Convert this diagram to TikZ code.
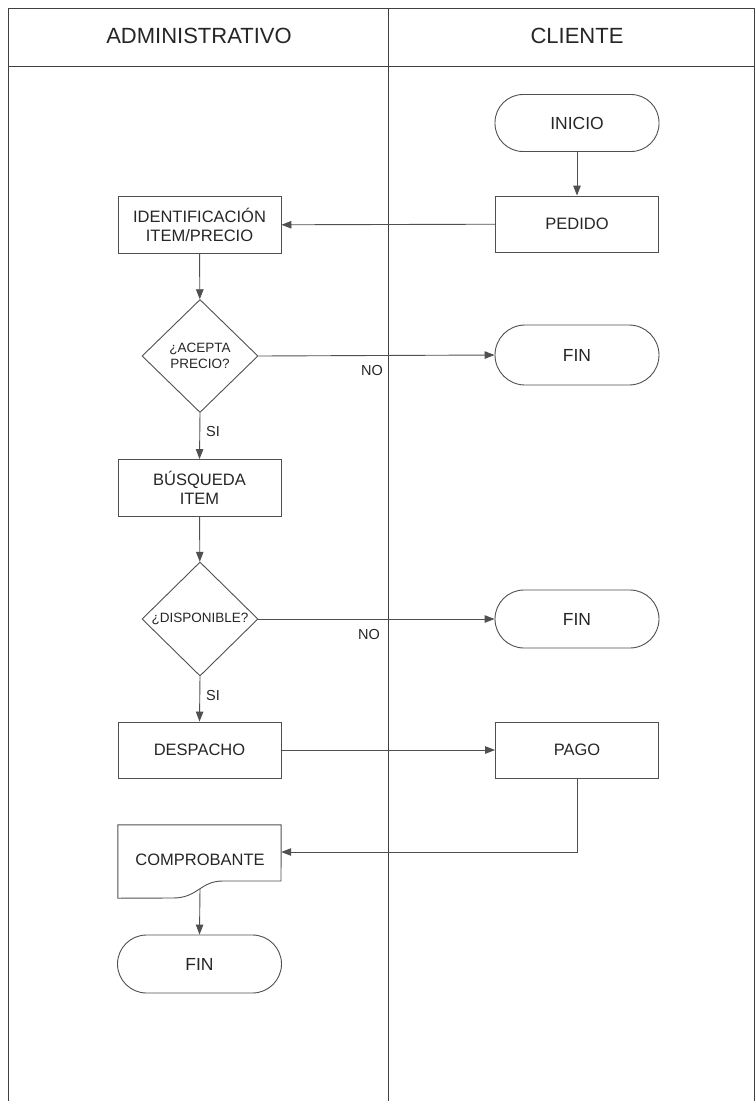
\documentclass[tikz,border=0pt]{standalone}
\usepackage{fontspec}
\setmainfont{Liberation Sans}
\usetikzlibrary{shapes.geometric,arrows.meta}
\definecolor{ln}{HTML}{505050}
\definecolor{tx}{HTML}{262626}
\begin{document}
\begin{tikzpicture}[x=1pt,y=-1pt,
  every node/.style={text=tx, font=\fontsize{16.5}{18.5}\selectfont},
  procbox/.style={draw=ln, line width=0.9pt, rectangle, minimum width=163pt, minimum height=57pt, inner sep=0pt, align=center},
  termbox/.style={draw=ln, line width=0.9pt, rectangle, rounded corners=28pt, minimum width=164pt, minimum height=57pt, inner sep=0pt, font=\fontsize{17.5}{19}\selectfont},
  decbox/.style={draw=ln, line width=0.9pt, diamond, minimum width=116pt, minimum height=114pt, inner sep=0pt, align=center, font=\fontsize{13.5}{15.5}\selectfont},
  conn/.style={draw=ln, line width=0.9pt, -{Triangle[length=10pt,width=7.5pt]}},
  lbl/.style={font=\fontsize{14.5}{16}\selectfont},
  frame/.style={draw=ln!80!black, line width=1pt}]
\useasboundingbox (0,0) rectangle (755,1101);
\fill[white] (0,0) rectangle (755,1101);
% frame
\draw[frame] (8,1101) -- (8,8) -- (754,8) -- (754,1101);
\draw[frame] (8,66) -- (754,66);
\draw[frame] (388,8) -- (388,1101);
\node[font=\fontsize{22}{24}\selectfont] (hadm) at (199,36) {ADMINISTRATIVO};
\node[font=\fontsize{22}{24}\selectfont] (hcli) at (577,36) {CLIENTE};
% nodes
\node[termbox] (inicio) at (577,123) {INICIO};
\node[procbox, minimum height=56pt] (pedido) at (577,224) {PEDIDO};
\node[procbox] (ident) at (199.5,225) {IDENTIFICACIÓN\\ITEM/PRECIO};
\node[decbox, minimum height=113pt] (d1) at (200,356) {¿ACEPTA\\PRECIO?};
\node[termbox, minimum height=60pt, rounded corners=30pt] (fin1) at (577,355) {FIN};
\node[procbox] (busq) at (199.5,488) {BÚSQUEDA\\ITEM};
\node[decbox] (d2) at (200,619) {¿DISPONIBLE?};
\node[termbox, minimum height=58pt, rounded corners=29pt] (fin2) at (577,619) {FIN};
\node[procbox, minimum height=56pt] (desp) at (199.5,750) {DESPACHO};
\node[procbox, minimum height=56pt] (pago) at (577,750) {PAGO};
\node[rectangle, minimum width=163pt, minimum height=73pt, inner sep=0pt] (comp) at (199.5,861.5) {};
\node (comptext) at (200,860) {COMPROBANTE};
\draw[draw=ln, line width=0.9pt] (comp.north west) -- (comp.north east) -- (281,881) -- (223,881)
   .. controls (200,881) and (198,898) .. (173,898) -- (comp.south west) -- cycle;
\coordinate (compb) at (200,889);
\node[termbox, minimum height=58pt, rounded corners=29pt] (fin3) at (199.5,964) {FIN};
% connectors
\draw[conn] (inicio) -- (pedido);
\draw[conn] (pedido) -- (ident);
\draw[conn] (ident) -- (d1);
\draw[conn] (d1.east) -- (fin1.west);
\node[lbl] (no1) at (372,371) {NO};
\draw[conn] (d1.south) -- (busq.north);
\node[lbl] (si1) at (213,432) {SI};
\draw[conn] (busq) -- (d2);
\draw[conn] (d2.east) -- (fin2.west);
\node[lbl] (no2) at (369,634) {NO};
\draw[conn] (d2.south) -- (desp.north);
\node[lbl] (si2) at (213,695) {SI};
\draw[conn] (desp) -- (pago);
\coordinate (bend) at (577,852);
\draw[conn] (pago.south) -- (bend) -- (comp.east |- bend);
\draw[conn] (compb) -- (fin3.north);
\end{tikzpicture}
\end{document}
